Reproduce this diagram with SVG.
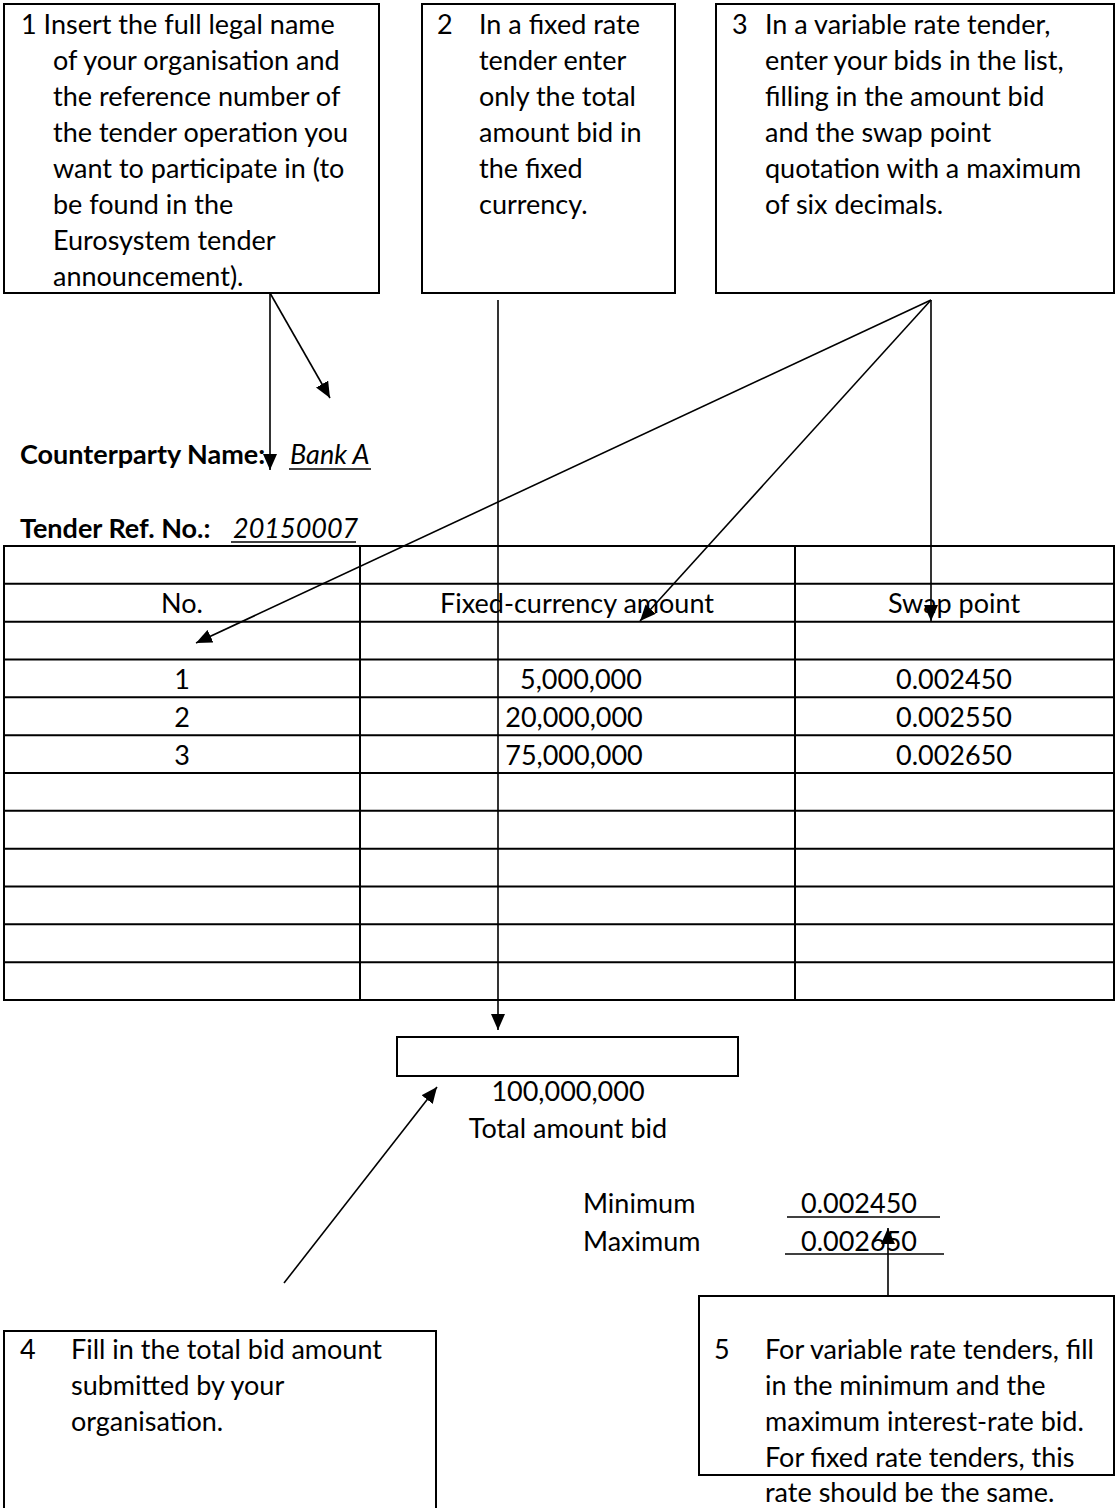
<svg xmlns="http://www.w3.org/2000/svg" width="1116" height="1508" viewBox="0 0 1116 1508">
<defs>
<style>
text{font-family:Lato,"Liberation Sans",sans-serif;font-size:27px;fill:#000}
.b{font-weight:bold}
.i{font-style:italic}
.m{text-anchor:middle}
.box{fill:#fff;stroke:#000;stroke-width:2}
.grid{stroke:#000;stroke-width:2;fill:none}
.c{stroke:#000;stroke-width:1.6;fill:none;marker-end:url(#ah)}
.u{stroke:#000;stroke-width:1.6}
</style>
<marker id="ah" viewBox="0 0 16 14" refX="16" refY="7" markerWidth="16" markerHeight="14" orient="auto" markerUnits="userSpaceOnUse">
<path d="M0,0 L16,7 L0,14 z" fill="#000"/>
</marker>
</defs>
<rect width="1116" height="1508" fill="#fff"/>

<g id="note1">
<rect class="box" x="4" y="4" width="375" height="289"/>
<text x="21" y="34">1 Insert the full legal name</text>
<text x="53" y="70">of your organisation and</text>
<text x="53" y="106">the reference number of</text>
<text x="53" y="142">the tender operation you</text>
<text x="53" y="178">want to participate in (to</text>
<text x="53" y="214">be found in the</text>
<text x="53" y="250">Eurosystem tender</text>
<text x="53" y="286">announcement).</text>
</g>

<g id="note2">
<rect class="box" x="422" y="4" width="253" height="289"/>
<text x="437" y="34">2</text>
<text x="479" y="34">In a fixed rate</text>
<text x="479" y="70">tender enter</text>
<text x="479" y="106">only the total</text>
<text x="479" y="142">amount bid in</text>
<text x="479" y="178">the fixed</text>
<text x="479" y="214">currency.</text>
</g>

<g id="note3">
<rect class="box" x="716" y="4" width="398" height="289"/>
<text x="732" y="34">3</text>
<text x="765" y="34">In a variable rate tender,</text>
<text x="765" y="70">enter your bids in the list,</text>
<text x="765" y="106">filling in the amount bid</text>
<text x="765" y="142">and the swap point</text>
<text x="765" y="178">quotation with a maximum</text>
<text x="765" y="214">of six decimals.</text>
</g>

<g id="counterparty">
<text class="b" x="20" y="464">Counterparty Name:</text>
<text class="i" x="290" y="464">Bank A</text>
<line class="u" x1="289" y1="469" x2="371" y2="469"/>
<text class="b" x="20" y="538">Tender Ref. No.:</text>
<text class="i" x="233" y="538" font-size="26">20150007</text>
<line class="u" x1="231" y1="542" x2="356" y2="542"/>
</g>

<g id="bid-table">
<rect class="grid" x="4" y="546" width="1110" height="454"/>
<path class="grid" d="M360,546V1000M795,546V1000
M4,583.8H1114M4,621.7H1114M4,659.5H1114M4,697.3H1114M4,735.2H1114M4,773H1114
M4,810.8H1114M4,848.7H1114M4,886.5H1114M4,924.3H1114M4,962.2H1114"/>
<text class="m" x="182" y="613">No.</text>
<text class="m" x="577" y="613">Fixed-currency amount</text>
<text class="m" x="954" y="613">Swap point</text>
<text class="m" x="182" y="689">1</text>
<text class="m" x="581" y="689">5,000,000</text>
<text class="m" x="954" y="689">0.002450</text>
<text class="m" x="182" y="727">2</text>
<text class="m" x="574" y="727">20,000,000</text>
<text class="m" x="954" y="727">0.002550</text>
<text class="m" x="182" y="765">3</text>
<text class="m" x="574" y="765">75,000,000</text>
<text class="m" x="954" y="765">0.002650</text>
</g>

<g id="total">
<rect class="box" x="397" y="1037" width="341" height="39"/>
<text class="m" x="568" y="1101">100,000,000</text>
<text class="m" x="568" y="1138">Total amount bid</text>
</g>

<g id="min-max">
<text x="583" y="1213">Minimum</text>
<text x="801" y="1213">0.002450</text>
<line class="u" x1="787" y1="1217" x2="940" y2="1217"/>
<text x="583" y="1251">Maximum</text>
<text x="801" y="1251">0.002650</text>
<line class="u" x1="785" y1="1254" x2="944" y2="1254"/>
</g>

<g id="note4">
<rect class="box" x="4" y="1331" width="432" height="200"/>
<text x="20" y="1359">4</text>
<text x="71" y="1359">Fill in the total bid amount</text>
<text x="71" y="1395">submitted by your</text>
<text x="71" y="1431">organisation.</text>
</g>

<g id="note5">
<rect class="box" x="699" y="1296" width="415" height="179"/>
<text x="714" y="1359">5</text>
<text x="765" y="1359">For variable rate tenders, fill</text>
<text x="765" y="1395">in the minimum and the</text>
<text x="765" y="1431">maximum interest-rate bid.</text>
<text x="765" y="1467">For fixed rate tenders, this</text>
<text x="765" y="1502">rate should be the same.</text>
</g>

<g id="connectors">
<line class="c" x1="270" y1="293" x2="270" y2="470"/>
<line class="c" x1="270" y1="293" x2="330" y2="398"/>
<line class="c" x1="498" y1="300" x2="498" y2="1030"/>
<line class="c" x1="931" y1="300" x2="931" y2="621"/>
<line class="c" x1="931" y1="300" x2="640" y2="621"/>
<line class="c" x1="931" y1="300" x2="196" y2="643"/>
<line class="c" x1="284" y1="1283" x2="437" y2="1087"/>
<line class="c" x1="888" y1="1296" x2="888" y2="1228"/>
</g>
</svg>
